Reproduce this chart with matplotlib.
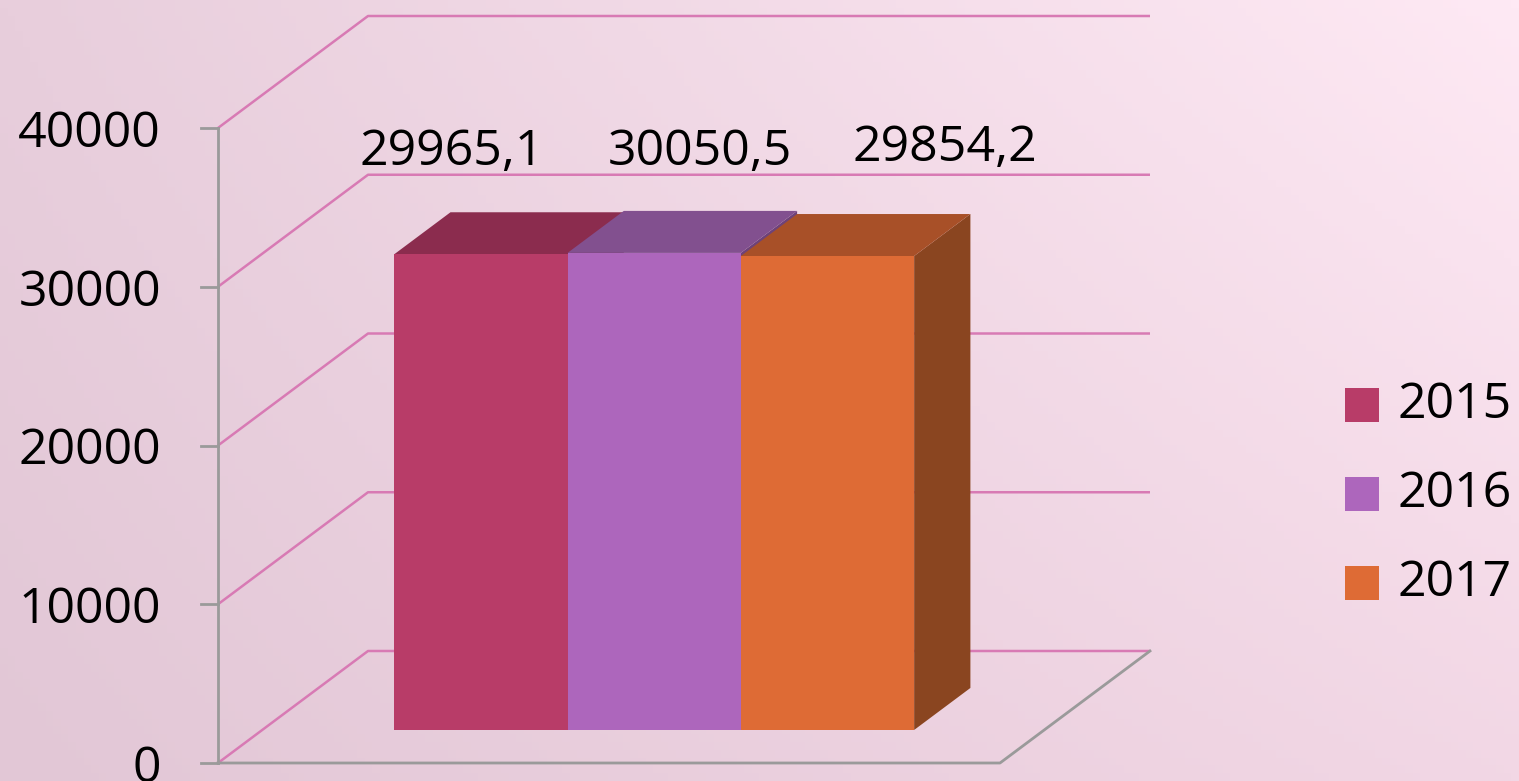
import numpy as np
import matplotlib.pyplot as plt
from matplotlib.patches import Polygon, Rectangle

YEARS = ["2015", "2016", "2017"]
VALUES = [29965.1, 30050.5, 29854.2]
VALUE_LABELS = ["29965,1", "30050,5", "29854,2"]
YTICKS = [0, 10000, 20000, 30000, 40000]

FRONT_COLORS = ["#B83C68", "#AD66BC", "#DE6B35"]
TOP_COLORS = ["#8B2C4E", "#82508F", "#A85028"]
SIDE_COLORS = ["#74223F", "#6E4279", "#8A4520"]
GRID_COLOR = "#D87AB4"
AXIS_COLOR = "#9A9A9A"
FONT = ["Open Sans", "DejaVu Sans"]

# layout: x in pixels, y in data units (0 at pixel 763, 40000 at pixel 128)
W, H = 1519, 781
K = 40000 / 635.0
def py(p):
    return (763 - p) * K

X0, X1 = 218, 1000          # front floor edge
DX, DY = 150, 112 * K       # oblique depth offset
D0, D1 = 0.295, 0.67        # bar depth fractions
BAR_L, BAR_W = 350, 173.3

fig = plt.figure(figsize=(W / 100, H / 100), dpi=100)
ax = fig.add_axes([0, 0, 1, 1])
ax.set_xlim(0, W)
ax.set_ylim(py(H), py(0))
ax.axis("off")

# background gradient
tl, tr = np.array([232, 206, 220]), np.array([254, 233, 244])
bl, br = np.array([226, 199, 214]), np.array([242, 215, 229])
u = np.linspace(0, 1, 200)[None, :, None]
v = np.linspace(0, 1, 100)[:, None, None]
bg = (tl * (1 - u) + tr * u) * (1 - v) + (bl * (1 - u) + br * u) * v
ax.imshow(bg / 255.0, extent=[0, W, py(H), py(0)], aspect="auto", zorder=0)

# gridlines: side wall diagonals + back wall
for t in YTICKS:
    ax.plot([X0, X0 + DX, X1 + DX], [t, t + DY, t + DY],
            color=GRID_COLOR, lw=1.8, zorder=1, solid_capstyle="butt")

# floor and front axis
ax.plot([X0, X1, X1 + DX], [0, 0, DY], color=AXIS_COLOR, lw=2, zorder=2)
ax.plot([X0, X0], [0, YTICKS[-1]], color=AXIS_COLOR, lw=2, zorder=2)
for t in YTICKS:
    ax.plot([X0 - 17, X0], [t, t], color=AXIS_COLOR, lw=2, zorder=2)
    ax.text(161, t, f"{t}", ha="right", va="center_baseline",
            fontsize=36, family=FONT, color="black")

# bars
for i, val in enumerate(VALUES):
    xl = BAR_L + i * BAR_W
    xr = xl + BAR_W
    ax0, ay0 = DX * D0, DY * D0
    ax1, ay1 = DX * D1, DY * D1
    side = [(xr + ax0, ay0), (xr + ax1, ay1), (xr + ax1, val + ay1), (xr + ax0, val + ay0)]
    top = [(xl + ax0, val + ay0), (xr + ax0, val + ay0),
           (xr + ax1, val + ay1), (xl + ax1, val + ay1)]
    front = [(xl + ax0, ay0), (xr + ax0, ay0), (xr + ax0, val + ay0), (xl + ax0, val + ay0)]
    z = 3 + i
    ax.add_patch(Polygon(side, closed=True, fc=SIDE_COLORS[i], ec="none", zorder=z))
    ax.add_patch(Polygon(top, closed=True, fc=TOP_COLORS[i], ec="none", zorder=z))
    ax.add_patch(Polygon(front, closed=True, fc=FRONT_COLORS[i], ec="none", zorder=z))

# value labels
LABEL_X = [452, 700, 945]
LABEL_Y = [py(152), py(152), py(148)]
for lx, ly, lab in zip(LABEL_X, LABEL_Y, VALUE_LABELS):
    ax.text(lx, ly, lab, ha="center", va="center", fontsize=36,
            family=FONT, color="black", zorder=10)

# legend
for i, (year, col) in enumerate(zip(YEARS, FRONT_COLORS)):
    ytop = 388 + i * 89
    ax.add_patch(Rectangle((1345, py(ytop + 34)), 34, 34 * K, fc=col, ec="none", zorder=10))
    ax.text(1398, py(ytop + 17), year, ha="left", va="center", fontsize=36,
            family=FONT, color="black", zorder=10)

fig.savefig("out.png", dpi=100)
